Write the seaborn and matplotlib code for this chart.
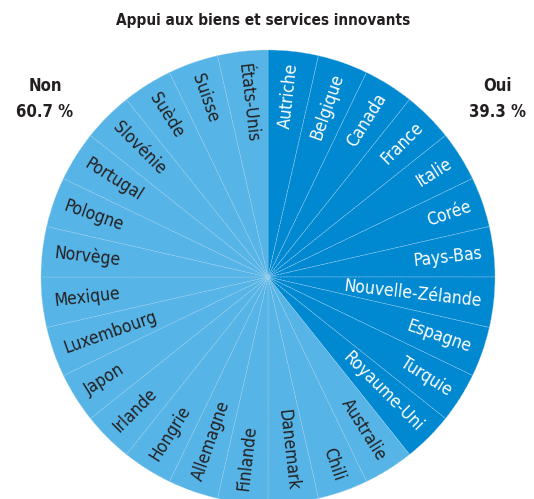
import numpy as np
import matplotlib
matplotlib.use('Agg')
import matplotlib.pyplot as plt
import seaborn as sns
from matplotlib import font_manager

# data
oui_countries = ['Autriche', 'Belgique', 'Canada', 'France', 'Italie', 'Corée',
                 'Pays-Bas', 'Nouvelle-Zélande', 'Espagne', 'Turquie', 'Royaume-Uni']
non_countries = ['Australie', 'Chili', 'Danemark', 'Finlande', 'Allemagne', 'Hongrie',
                 'Irlande', 'Japon', 'Luxembourg', 'Mexique', 'Norvège', 'Pologne',
                 'Portugal', 'Slovénie', 'Suède', 'Suisse', 'États-Unis']
title = 'Appui aux biens et services innovants'
oui_label = 'Oui\n39.3 %'
non_label = 'Non\n60.7 %'

countries = oui_countries + non_countries
shares = [1] * len(countries)

sns.set_theme(style='white')
plt.rcParams['font.family'] = ['DejaVu Sans']

# use a condensed face if one is installed
cond = [f for f in font_manager.fontManager.ttflist
        if 'condensed' in str(f.stretch).lower() or 'Condensed' in f.name or 'Narrow' in f.name]
has_cond = len(cond) > 0
stretch = 'condensed' if has_cond else 'normal'
lab_size = 12.5 if has_cond else 11
head_size = 12 if has_cond else 10.5
title_size = 11 if has_cond else 10

dark_blue = '#0088d1'
light_blue = '#56b4e6'
colors = [dark_blue] * len(oui_countries) + [light_blue] * len(non_countries)

fig = plt.figure(figsize=(5.34, 4.99), dpi=100)
# pie centre ~ (268, 277) px, radius ~227 px
cx, cy, r = 268, 499 - 277, 227
ax = fig.add_axes([(cx - r) / 534, (cy - r) / 499, 2 * r / 534, 2 * r / 499])

wedges, _ = ax.pie(shares, colors=colors, startangle=90, counterclock=False,
                   radius=1,
                   wedgeprops=dict(edgecolor='#9fd2ef', linewidth=0.4,
                                   linestyle=(0, (3, 2))))
ax.set_xlim(-1, 1)
ax.set_ylim(-1, 1)
ax.set_aspect('equal')
ax.axis('off')

# radial labels
for w, name in zip(wedges, countries):
    ang = (w.theta1 + w.theta2) / 2
    rad = np.deg2rad(ang)
    x, y = 0.948 * np.cos(rad), 0.948 * np.sin(rad)
    col = 'white' if name in oui_countries else '#231f20'
    if np.cos(rad) >= 0:
        rot, ha = ang, 'right'
    else:
        rot, ha = ang + 180, 'left'
    ax.text(x, y, name, rotation=rot, ha=ha, va='center', rotation_mode='anchor',
            fontsize=lab_size, color=col, fontstretch=stretch)

fig.text(263 / 534, 1 - 20 / 499, title, ha='center', va='center',
         fontsize=title_size, fontweight='bold', color='#231f20', fontstretch=stretch)
fig.text(45 / 534, 1 - 99 / 499, non_label, ha='center', va='center',
         fontsize=head_size, fontweight='bold', color='#231f20', linespacing=1.6,
         fontstretch=stretch)
fig.text(498 / 534, 1 - 99 / 499, oui_label, ha='center', va='center',
         fontsize=head_size, fontweight='bold', color='#231f20', linespacing=1.6,
         fontstretch=stretch)

fig.savefig('out.png', dpi=100)
